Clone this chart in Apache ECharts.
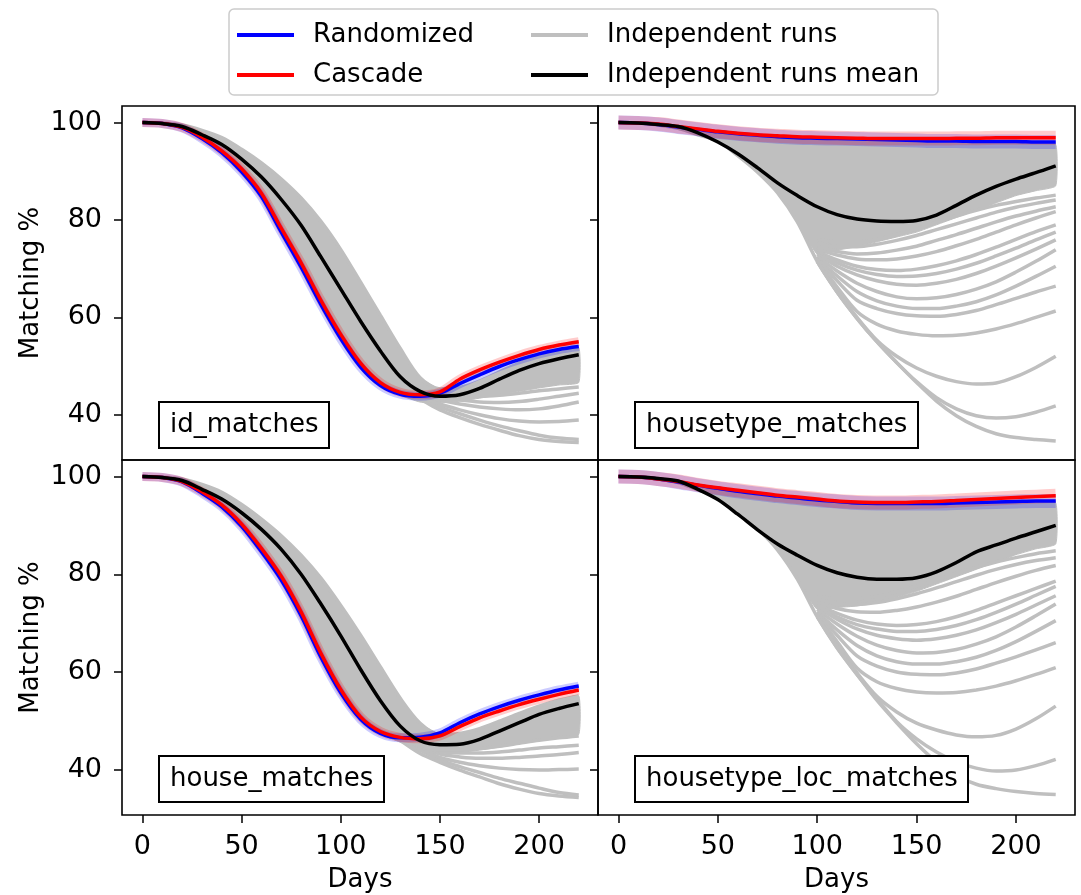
<!DOCTYPE html>
<html><head><meta charset="utf-8">
<script src="https://cdn.jsdelivr.net/npm/echarts@6/dist/echarts.min.js"></script>
<style>html,body{margin:0;padding:0;background:#fff}#c{width:1081px;height:895px}</style>
</head><body><div id="c"></div>
<script>
// ---- data ----
const days = [0,10,20,30,40,50,60,70,80,90,100,110,120,130,140,150,160,170,180,190,200,210,220];
const fanDaysLeft = [130,140,150,160,170,180,190,200,210,220];
const fanDaysRight = [100,110,120,130,140,150,160,170,180,190,200,210,220];
const xTicks = [0,50,100,150,200];
const yTicks = [40,60,80,100];
const legendLeft = ['Randomized','Cascade'];
const legendRight = ['Independent runs','Independent runs mean'];

const idMean    = [100,99.8,99.2,97.5,95.5,92.5,88.8,84.2,78.9,72.4,65.8,59.2,53.1,47.8,44.8,43.8,44.1,45.4,47.3,49.1,50.5,51.5,52.3];
const idCascade = [100,99.8,99.0,97.0,94.2,90.5,85.5,78.3,71.2,63.5,56.5,50.6,46.6,44.6,44.1,44.7,47.3,49.2,50.8,52.2,53.4,54.3,55.0];
const idRandom  = [100,99.8,98.9,96.7,93.8,89.9,84.8,77.5,70.3,62.6,55.6,49.8,46.0,44.2,43.8,44.4,46.4,48.2,49.9,51.3,52.5,53.4,54.0];
const idRunsUpper = [100,99.9,99.5,98.4,96.9,94.5,91.7,88.4,84.5,79.7,73.9,67.2,60.4,53.6,47.6,45.3,45.6,46.9,48.8,50.6,52.0,53.0,53.8];
const idRunsLower = [100,99.8,98.9,96.7,93.8,89.9,84.8,77.5,70.3,62.6,55.6,49.8,46.0,44.0,42.6,42.4,42.8,43.4,44.1,44.8,45.5,46.1,46.6];
const idRunsFan = [
  [45.0,43.2,41.0,39.4,38.0,36.8,35.7,34.9,34.5,34.3],
  [45.0,43.5,41.6,40.2,38.9,37.7,36.7,35.8,35.2,34.9],
  [45.0,43.8,42.2,41.0,40.0,39.2,38.7,38.5,38.6,38.9],
  [45.0,44.0,43.0,42.2,41.6,41.2,41.0,41.2,41.8,42.6],
  [45.0,44.2,43.5,43.0,42.6,42.5,42.7,43.2,43.8,44.4],
  [45.0,44.4,44.0,43.8,43.8,44.0,44.4,44.9,45.3,45.7]
];

const htMean    = [100,99.9,99.6,99.2,97.9,96.0,93.6,90.7,87.6,85.0,82.7,81.1,80.2,79.8,79.7,79.9,81.0,83.0,85.1,86.9,88.4,89.7,91.1];
const htCascade = [100,99.9,99.7,99.2,98.7,98.2,97.8,97.5,97.3,97.1,97.0,96.9,96.8,96.7,96.7,96.7,96.7,96.8,96.8,96.9,96.9,96.9,96.9];
const htRandom  = [100,99.9,99.6,99.1,98.6,98.1,97.7,97.4,97.1,96.9,96.8,96.7,96.6,96.5,96.4,96.3,96.2,96.2,96.1,96.1,96.1,96.0,96.0];
const htRunsUpper = [100,99.9,99.6,99.1,98.5,98.0,97.5,97.1,96.8,96.6,96.4,96.2,96.0,96.0,95.9,95.9,95.9,95.8,95.8,95.7,95.7,95.6,95.5];
const htRunsLower = [100,99.9,99.5,98.8,97.5,96.2,93.2,89.8,85.6,79.6,73.0,73.8,74.5,75.5,76.5,77.5,79.0,80.5,82.0,83.5,85.0,86.0,87.0];
const htRunsEdge  = [100,99.9,99.5,98.8,97.5,96.2,93.2,89.8,85.6,79.6,71.5,65.2,59.8,55.0,50.7,46.6,42.8,39.8,37.6,36.1,35.3,34.9,34.6];
const htRunsFan = [
  [76.0,75.5,75.5,76.0,77.0,78.2,79.5,80.8,82.0,83.0,83.8,84.5,85.1],
  [75.0,74.5,74.5,75.0,75.8,76.8,78.0,79.2,80.4,81.6,82.6,83.4,84.1],
  [74.5,73.5,73.0,73.2,73.8,74.6,75.8,77.0,78.3,79.6,80.8,81.8,82.7],
  [74.0,72.8,72.0,71.8,72.0,72.6,73.5,74.7,76.0,77.5,79.0,80.4,81.7],
  [73.5,71.8,70.5,69.8,69.6,69.9,70.6,71.6,72.9,74.4,76.0,77.6,79.0],
  [73.2,71.2,69.7,68.8,68.4,68.5,69.0,69.9,71.1,72.6,74.2,75.9,77.5],
  [73.0,70.5,68.7,67.5,66.8,66.6,67.0,67.8,69.0,70.5,72.2,74.0,75.9],
  [72.5,69.5,67.0,65.3,64.2,63.8,64.0,64.7,65.8,67.3,69.3,71.5,73.9],
  [72.2,68.5,65.3,63.4,62.3,61.8,61.8,62.3,63.2,64.6,66.4,68.4,70.5],
  [72.0,67.5,63.5,61.8,60.8,60.3,60.2,60.6,61.4,62.6,63.9,65.2,66.4],
  [71.8,66.2,61.2,58.6,57.2,56.5,56.2,56.3,56.8,57.6,58.7,60.0,61.3],
  [71.5,65.3,60.0,55.3,52.0,49.6,47.9,46.8,46.3,46.5,47.8,49.7,52.0],
  [71.5,65.2,59.8,55.0,50.7,46.8,43.5,41.2,39.8,39.3,39.6,40.5,41.8]
];

const hMean    = [100,99.8,99.2,97.4,95.4,92.6,89.2,85.1,80.0,73.9,67.4,60.5,54.1,48.9,45.9,45.1,45.2,46.2,47.9,49.6,51.3,52.5,53.5];
const hCascade = [100,99.8,99.0,96.9,94.2,90.3,85.3,79.6,72.3,63.8,56.4,50.8,47.8,46.6,46.3,46.9,48.8,50.6,52.0,53.3,54.4,55.4,56.3];
const hRandom  = [100,99.8,98.9,96.6,93.8,89.8,84.6,78.8,71.5,63.0,55.7,50.3,47.4,46.5,46.6,47.5,49.6,51.4,52.9,54.2,55.3,56.3,57.1];
const hRunsUpper = [100,99.9,99.5,98.4,96.8,94.3,91.3,87.9,83.9,79.2,73.6,67.5,61.0,54.6,49.5,47.2,47.4,48.4,49.9,51.5,53.0,54.2,55.1];
const hRunsLower = [100,99.8,98.9,96.6,93.8,89.8,84.6,78.8,71.5,63.0,55.7,50.3,47.4,45.6,44.0,43.5,43.5,44.0,44.6,45.3,46.0,46.6,47.2];
const hRunsFan = [
  [46.0,43.3,41.5,39.9,38.5,37.1,36.0,35.1,34.6,34.3],
  [46.0,44.0,42.0,40.6,39.4,38.2,37.2,36.2,35.3,34.8],
  [46.0,44.3,42.5,41.5,40.8,40.3,40.0,39.9,40.0,40.1],
  [46.0,44.6,43.2,42.6,42.3,42.3,42.5,42.8,43.1,43.5],
  [46.0,44.8,43.7,43.4,43.4,43.6,44.0,44.4,44.7,45.0],
  [46.0,45.0,44.0,44.0,44.3,44.8,45.4,46.0,46.5,46.9]
];

const hlMean    = [100,99.9,99.6,99.1,97.4,95.3,92.3,89.1,86.2,83.9,81.8,80.3,79.4,79.0,79.0,79.3,80.5,82.4,84.6,86.0,87.4,88.7,90.0];
const hlCascade = [100,99.9,99.5,99.0,98.3,97.7,97.2,96.7,96.2,95.8,95.4,95.0,94.8,94.7,94.7,94.8,94.9,95.1,95.3,95.5,95.7,95.9,96.1];
const hlRandom  = [100,99.9,99.5,98.9,98.2,97.6,97.0,96.5,96.0,95.6,95.2,94.9,94.6,94.5,94.5,94.5,94.5,94.6,94.7,94.8,94.9,95.0,95.0];
const hlRunsUpper = [100,99.9,99.5,99.0,98.2,97.5,96.9,96.3,95.8,95.3,94.9,94.5,94.2,94.1,94.1,94.1,94.1,94.2,94.3,94.4,94.5,94.6,94.6];
const hlRunsLower = [100,99.9,99.5,98.8,97.3,95.8,92.8,89.3,85.0,79.0,72.8,73.2,73.5,74.3,75.3,76.5,78.0,79.5,81.0,82.5,84.0,85.2,86.2];
const hlRunsEdge  = [100,99.9,99.5,98.8,97.3,95.8,92.8,89.3,85.0,79.0,71.3,64.9,59.5,54.2,49.6,45.3,41.6,38.8,37.0,36.1,35.5,35.1,34.9];
const hlRunsFan = [
  [75.5,75.0,75.0,75.5,76.4,77.6,78.9,80.2,81.4,82.5,83.4,84.2,84.8],
  [74.8,74.0,73.8,74.2,75.0,76.0,77.2,78.5,79.8,81.0,82.0,82.8,83.4],
  [74.3,73.0,72.3,72.2,72.6,73.3,74.3,75.5,76.9,78.3,79.6,80.8,81.8],
  [73.8,72.0,70.6,69.8,69.5,69.7,70.3,71.3,72.6,74.1,75.6,77.1,78.6],
  [73.5,71.3,69.7,68.8,68.3,68.3,68.7,69.5,70.7,72.2,73.9,75.7,77.5],
  [73.3,70.8,68.8,67.5,66.8,66.5,66.8,67.5,68.6,70.1,71.8,73.7,75.6],
  [72.8,69.8,67.3,65.5,64.4,63.9,64.0,64.6,65.7,67.2,69.2,71.5,73.9],
  [72.3,68.6,65.4,63.3,62.1,61.6,61.6,62.1,63.0,64.4,66.2,68.3,70.5],
  [72.0,67.5,63.3,61.2,60.0,59.5,59.4,59.8,60.6,61.8,63.1,64.5,66.0],
  [71.7,66.2,60.8,58.0,56.6,55.9,55.7,55.8,56.3,57.1,58.2,59.5,60.9],
  [71.5,65.3,59.8,55.0,51.8,49.5,48.1,47.1,46.7,47.0,48.3,50.4,53.0],
  [71.3,65.0,59.5,54.5,49.8,46.3,43.6,41.6,40.3,39.7,39.9,40.8,42.1]
];

const panels = [
  {label:'id_matches', mean:idMean, cascade:idCascade, random:idRandom, upper:idRunsUpper, lower:idRunsLower, edge:null, fan:idRunsFan, fanDays:fanDaysLeft},
  {label:'housetype_matches', mean:htMean, cascade:htCascade, random:htRandom, upper:htRunsUpper, lower:htRunsLower, edge:htRunsEdge, fan:htRunsFan, fanDays:fanDaysRight},
  {label:'house_matches', mean:hMean, cascade:hCascade, random:hRandom, upper:hRunsUpper, lower:hRunsLower, edge:null, fan:hRunsFan, fanDays:fanDaysLeft},
  {label:'housetype_loc_matches', mean:hlMean, cascade:hlCascade, random:hlRandom, upper:hlRunsUpper, lower:hlRunsLower, edge:hlRunsEdge, fan:hlRunsFan, fanDays:fanDaysRight}
];

const FONT = 'DejaVu Sans';
const GRAY = '#bfbfbf';
const grids = [
  {left:122, top:106, width:476, height:354},
  {left:598, top:106, width:477, height:354},
  {left:122, top:460, width:476, height:355},
  {left:598, top:460, width:477, height:355}
];
const boxPos = [[159,402],[635,402],[159,756],[635,756]];
const zip = (xs, ys) => xs.map((x, i) => [x, ys[i]]);

const series = [];
panels.forEach((p, k) => {
  const base = {type:'line', xAxisIndex:k, yAxisIndex:k, symbol:'none', showSymbol:false, smooth:0.3, animation:false, silent:true};
  const grayLine = {color:GRAY, width:3.5};
  series.push({type:'custom', name:'Independent runs', xAxisIndex:k, yAxisIndex:k, silent:true, animation:false, clip:true,
    itemStyle:{color:GRAY},
    data: zip(days, p.upper),
    renderItem: (params, api) => {
      if (params.dataIndex !== 0) return null;
      const pts = [];
      for (let i = 0; i < days.length; i++) pts.push(api.coord([days[i], p.upper[i]]));
      for (let i = days.length - 1; i >= 0; i--) pts.push(api.coord([days[i], p.lower[i]]));
      return {type:'polygon', shape:{points:pts, smooth:0.15}, style:{fill:GRAY, stroke:GRAY, lineWidth:1}};
    }});
  series.push(Object.assign({}, base, {name:'Independent runs', data:zip(days, p.upper), lineStyle:grayLine, itemStyle:{color:GRAY}}));
  p.fan.forEach(f => series.push(Object.assign({}, base, {name:'Independent runs', data:zip(p.fanDays, f), lineStyle:grayLine, itemStyle:{color:GRAY}})));
  if (p.edge) series.push(Object.assign({}, base, {name:'Independent runs', data:zip(days, p.edge), lineStyle:grayLine, itemStyle:{color:GRAY}}));
  const bw = (k % 2) ? 14 : 9;
  series.push(Object.assign({}, base, {name:'Randomized runs', data:zip(days, p.random), lineStyle:{color:'#0000ff', width:bw, opacity:0.2}, itemStyle:{color:'#0000ff'}}));
  series.push(Object.assign({}, base, {name:'Cascade runs', data:zip(days, p.cascade), lineStyle:{color:'#ff0000', width:bw, opacity:0.2}, itemStyle:{color:'#ff0000'}}));
  series.push(Object.assign({}, base, {name:'Randomized', data:zip(days, p.random), lineStyle:{color:'#0000ff', width:3.5}, itemStyle:{color:'#0000ff'}}));
  series.push(Object.assign({}, base, {name:'Cascade', data:zip(days, p.cascade), lineStyle:{color:'#ff0000', width:3.5}, itemStyle:{color:'#ff0000'}}));
  series.push(Object.assign({}, base, {name:'Independent runs mean', data:zip(days, p.mean), lineStyle:{color:'#000000', width:3.5}, itemStyle:{color:'#000000'}}));
});

const legendCommon = {orient:'vertical', top:15, itemWidth:57, itemHeight:4, icon:'rect', itemGap:10, selectedMode:false,
  textStyle:{fontSize:26, fontFamily:FONT, color:'#000', lineHeight:30, padding:[0,0,0,14]}};
const TICK_FS = 27;

const option = {
  backgroundColor:'#fff',
  animation:false,
  graphic:[{type:'rect', z:-10, silent:true, shape:{x:229, y:9, width:709, height:86, r:5}, style:{fill:'#fff', stroke:'#cccccc', lineWidth:1.5}}],
  legend:[
    Object.assign({}, legendCommon, {left:232, data:legendLeft}),
    Object.assign({}, legendCommon, {left:526, data:legendRight})
  ],
  title: panels.map((p, k) => ({text:p.label, left:boxPos[k][0], top:boxPos[k][1], padding:[7,11,7,11], borderColor:'#000', borderWidth:2, backgroundColor:'#fff',
    textStyle:{fontSize:26, fontWeight:'normal', color:'#000', fontFamily:FONT, lineHeight:32}})),
  grid: grids.map(g => Object.assign({show:true, borderColor:'#000', borderWidth:1.6, backgroundColor:'transparent'}, g)),
  xAxis: grids.map((g, k) => ({type:'value', gridIndex:k, min:-10.3, max:229.7, splitLine:{show:false}, axisLine:{show:false, onZero:false},
    axisTick:{show:k >= 2, length:8, lineStyle:{color:'#000', width:1.5}, customValues:xTicks},
    axisLabel:{show:k >= 2, customValues:xTicks, margin:18, fontSize:TICK_FS, fontFamily:FONT, color:'#000'},
    name: k >= 2 ? 'Days' : '', nameLocation:'middle', nameGap:52, nameTextStyle:{fontSize:26, fontFamily:FONT, color:'#000'}})),
  yAxis: grids.map((g, k) => ({type:'value', gridIndex:k, min:30.7, max:103.4, splitLine:{show:false}, axisLine:{show:false, onZero:false},
    axisTick:{show:true, length:8, lineStyle:{color:'#000', width:1.5}, customValues:yTicks},
    axisLabel:{show:k % 2 === 0, customValues:yTicks, margin:20, fontSize:TICK_FS, fontFamily:FONT, color:'#000'},
    name: k % 2 === 0 ? 'Matching %' : '', nameLocation:'middle', nameRotate:90, nameGap:78, nameTextStyle:{fontSize:26, fontFamily:FONT, color:'#000'}})),
  series: series
};
const chart = echarts.init(document.getElementById('c'), null, {renderer:'canvas'});
chart.setOption(option);
</script>
</body></html>
